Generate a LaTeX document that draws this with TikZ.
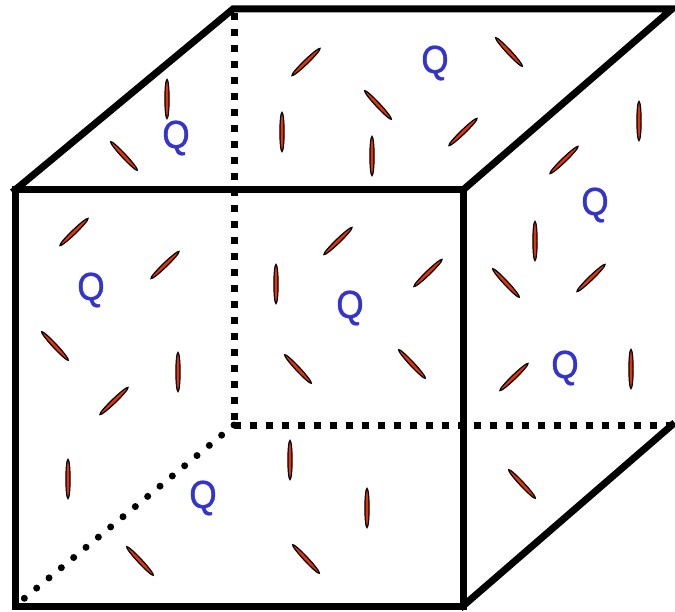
\documentclass[tikz,border=0pt]{standalone}
\usepackage{fontspec}
\newfontfamily\qfont[FakeBold=1.2]{Liberation Sans}
\usetikzlibrary{shapes.geometric}
\definecolor{molfill}{RGB}{226,52,12}
\definecolor{qblue}{RGB}{52,52,204}
\tikzset{
  mol/.style={ellipse, draw=black, line width=1.2pt, fill=molfill, minimum width=39pt, minimum height=4.2pt, inner sep=0pt},
  qlab/.style={text=qblue, inner sep=0pt, font=\qfont\fontsize{39}{39}\selectfont},
  edge/.style={line width=7pt, line join=miter, line cap=rect},
  hid/.style={line width=7pt, dash pattern=on 7pt off 9pt},
  hidround/.style={line width=7pt, line cap=round, dash pattern=on 0pt off 16pt}
}
\begin{document}
\begin{tikzpicture}[x=1pt,y=-1pt]
\useasboundingbox (0,0) rectangle (675,612);
% corners
\coordinate (fA) at (15,190);
\coordinate (fB) at (463,190);
\coordinate (fC) at (463,606);
\coordinate (fD) at (15,606);
\coordinate (bA) at (233,9);
\coordinate (bB) at (672,9);
\coordinate (bC) at (672,425);
\coordinate (bD) at (234,425);
\coordinate (bAd) at (234,13);
% hidden edges
\draw[hid] (bAd) -- (bD);
\draw[hid] (bD) -- (bC);
\draw[hidround] (bD) -- (fD);
% visible edges
\draw[edge] (fA) rectangle (fC);
\draw[edge] (fA) -- (bA) -- (bB) -- (fB);
\draw[edge] (fC) -- (bC);
% molecules: top face
\node[mol, rotate=90] (m1) at (167,99) {};
\node[mol, rotate=-47] (m2) at (124,156) {};
\node[mol, rotate=44] (m3) at (306,62) {};
\node[mol, rotate=-47] (m4) at (509,52) {};
\node[mol, rotate=-47] (m5) at (378,105) {};
\node[mol, rotate=90] (m6) at (282,132) {};
\node[mol, rotate=90] (m7) at (372,156) {};
\node[mol, rotate=44] (m8) at (463,132) {};
\node[mol, rotate=90] (m9) at (639,121) {};
\node[mol, rotate=44] (m10) at (564,160) {};
% front face
\node[mol, rotate=44] (m11) at (74,232) {};
\node[mol, rotate=44] (m12) at (165,265) {};
\node[mol, rotate=44] (m13) at (338,241) {};
\node[mol, rotate=90] (m14) at (276,284) {};
\node[mol, rotate=44] (m15) at (428,273) {};
\node[mol, rotate=-47] (m16) at (55,346) {};
\node[mol, rotate=90] (m17) at (178,372) {};
\node[mol, rotate=44] (m18) at (114,401) {};
\node[mol, rotate=-47] (m19) at (298,369) {};
\node[mol, rotate=-47] (m20) at (412,364) {};
\node[mol, rotate=90] (m21) at (68,479) {};
\node[mol, rotate=90] (m22) at (290,460) {};
\node[mol, rotate=90] (m23) at (367,508) {};
\node[mol, rotate=-47] (m24) at (140,561) {};
\node[mol, rotate=-47] (m25) at (306,559) {};
% right face
\node[mol, rotate=90] (m26) at (535,241) {};
\node[mol, rotate=-47] (m27) at (506,283) {};
\node[mol, rotate=44] (m28) at (591,278) {};
\node[mol, rotate=44] (m29) at (514,377) {};
\node[mol, rotate=90] (m30) at (631,369) {};
\node[mol, rotate=-47] (m31) at (522,484) {};
% Q labels
\node[qlab] (q1) at (176,138) {\scalebox{0.9}[1]{Q}};
\node[qlab] (q2) at (435,63) {\scalebox{0.9}[1]{Q}};
\node[qlab] (q3) at (595,205) {\scalebox{0.9}[1]{Q}};
\node[qlab] (q4) at (91,290) {\scalebox{0.9}[1]{Q}};
\node[qlab] (q5) at (350,308) {\scalebox{0.9}[1]{Q}};
\node[qlab] (q6) at (565,368) {\scalebox{0.9}[1]{Q}};
\node[qlab] (q7) at (203,498) {\scalebox{0.9}[1]{Q}};
\end{tikzpicture}
\end{document}
